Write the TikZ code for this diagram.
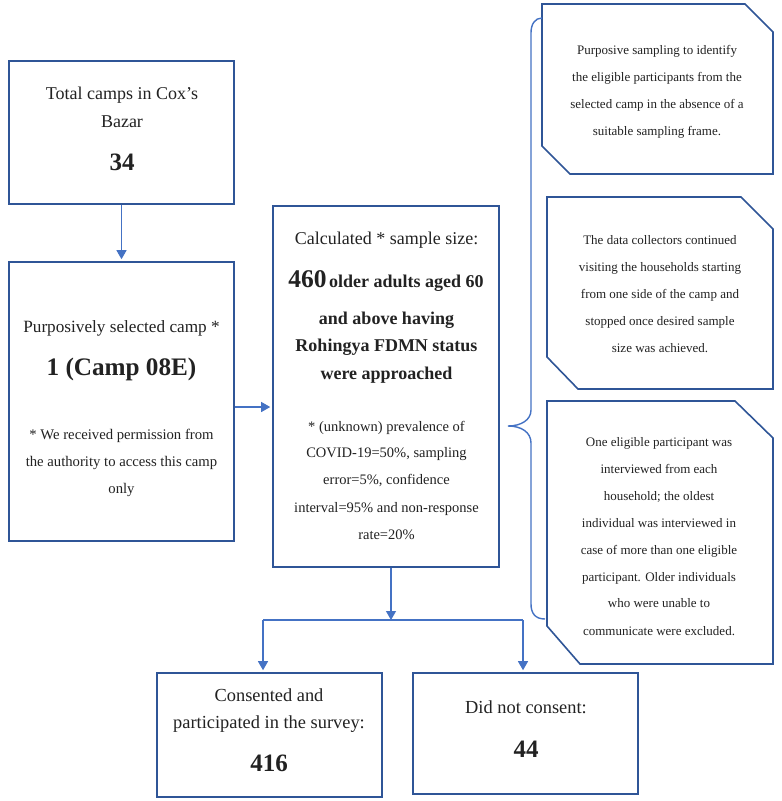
\documentclass[tikz,border=0pt]{standalone}
\usepackage{fontspec}
\setmainfont{Liberation Serif}
\usetikzlibrary{arrows.meta}
\definecolor{boxblue}{HTML}{2F5597}
\definecolor{arrblue}{HTML}{4472C4}
\definecolor{txtc}{HTML}{222222}
\newcommand\fsz[1]{\fontsize{#1}{#1}\selectfont}
\tikzset{
  box/.style={draw=boxblue, line width=1.6pt, inner sep=0pt},
  snip/.style={draw=boxblue, line width=1.6pt, line join=miter},
  tl/.style={anchor=base, text=txtc, inner sep=0pt},
  arr/.style={draw=arrblue, line width=1.1pt, -{Triangle[length=9pt,width=10pt]}, shorten >=2pt},
  conn/.style={draw=arrblue, line width=1.1pt},
  brace/.style={draw=arrblue, line width=1.4pt}
}
\begin{document}
\begin{tikzpicture}[x=1pt,y=-1pt]
\useasboundingbox (0,0) rectangle (782,801);
\fill[white] (0,0) rectangle (782,801);

% left boxes
\node[box,minimum width=225pt,minimum height=143pt] (b1) at (121.5,132.5) {};
\node[box,minimum width=225pt,minimum height=279pt] (b2) at (121.5,401.5) {};
\node[box,minimum width=226pt,minimum height=361pt] (b3) at (386,386.5) {};
\node[box,minimum width=225pt,minimum height=124pt] (b4) at (269.5,735) {};
\node[box,minimum width=225pt,minimum height=121pt] (b5) at (525.5,733.5) {};

% box 1 text
\node[tl,font=\fsz{18}] (b1a) at (122,99) {Total camps in Cox’s};
\node[tl,font=\fsz{18}] (b1b) at (122,127) {Bazar};
\node[tl,font=\bfseries\fsz{25}] (b1c) at (122,170) {34};

% box 2 text
\node[tl,font=\fsz{17.2}] (b2a) at (121.5,332) {Purposively selected camp *};
\node[tl,font=\bfseries\fsz{25.2}] (b2b) at (121.5,375.5) {1 (Camp 08E)};
\node[tl,font=\fsz{14.7}] (b2c) at (121.5,439.5) {* We received permission from};
\node[tl,font=\fsz{14.7}] (b2d) at (121.5,466.5) {the authority to access this camp};
\node[tl,font=\fsz{14.7}] (b2e) at (121.5,493.5) {only};

% box 3 text
\node[tl,font=\fsz{18}] (b3a) at (386.5,244) {Calculated * sample size:};
\node[tl,font=\bfseries] (b3b) at (386,287) {{\fsz{25.5}460} {\fsz{18}older adults aged 60}};
\node[tl,font=\bfseries\fsz{18}] (b3c) at (386.5,324) {and above having};
\node[tl,font=\bfseries\fsz{18}] (b3d) at (386.5,351) {Rohingya FDMN status};
\node[tl,font=\bfseries\fsz{18}] (b3e) at (386.5,379) {were approached};
\node[tl,font=\fsz{14.5}] (b3f) at (386.5,431.5) {* (unknown) prevalence of};
\node[tl,font=\fsz{14.5}] (b3g) at (386.5,457.5) {COVID-19=50\%, sampling};
\node[tl,font=\fsz{14.5}] (b3h) at (386.5,484.5) {error=5\%, confidence};
\node[tl,font=\fsz{14.5}] (b3i) at (386.5,512.5) {interval=95\% and non-response};
\node[tl,font=\fsz{14.5}] (b3j) at (386.5,539.5) {rate=20\%};

% box 4 and 5 text
\node[tl,font=\fsz{18.4}] (b4a) at (269,701) {Consented and};
\node[tl,font=\fsz{18.4}] (b4b) at (269,728) {participated in the survey:};
\node[tl,font=\bfseries\fsz{25}] (b4c) at (269,771) {416};
\node[tl,font=\fsz{18.4}] (b5a) at (526,713) {Did not consent:};
\node[tl,font=\bfseries\fsz{25}] (b5b) at (526,757) {44};

% right snipped boxes
\draw[snip] (542,4) -- (745,4) -- (773,32) -- (773,174) -- (570,174) -- (542,146) -- cycle;
\draw[snip] (547,197) -- (741,197) -- (773,229) -- (773,389) -- (578,389) -- (547,357) -- cycle;
\draw[snip] (547,401) -- (735,401) -- (773,438) -- (773,664) -- (580,664) -- (547,626) -- cycle;

\node[tl,font=\fsz{13}] (r1a) at (657,54) {Purposive sampling to identify};
\node[tl,font=\fsz{13}] (r1b) at (657,81) {the eligible participants from the};
\node[tl,font=\fsz{13}] (r1c) at (657,108) {selected camp in the absence of a};
\node[tl,font=\fsz{13}] (r1d) at (657,135) {suitable sampling frame.};

\node[tl,font=\fsz{13}] (r2a) at (660,244) {The data collectors continued};
\node[tl,font=\fsz{13}] (r2b) at (660,271) {visiting the households starting};
\node[tl,font=\fsz{13}] (r2c) at (660,298) {from one side of the camp and};
\node[tl,font=\fsz{13}] (r2d) at (660,325) {stopped once desired sample};
\node[tl,font=\fsz{13}] (r2e) at (660,352) {size was achieved.};

\node[tl,font=\fsz{13}] (r3a) at (659,446) {One eligible participant was};
\node[tl,font=\fsz{13}] (r3b) at (659,473) {interviewed from each};
\node[tl,font=\fsz{13}] (r3c) at (659,500) {household; the oldest};
\node[tl,font=\fsz{13}] (r3d) at (659,527) {individual was interviewed in};
\node[tl,font=\fsz{13}] (r3e) at (659,554) {case of more than one eligible};
\node[tl,font=\fsz{13}] (r3f) at (659,581) {participant. Older individuals};
\node[tl,font=\fsz{13}] (r3g) at (659,607) {who were unable to};
\node[tl,font=\fsz{13}] (r3h) at (659,635) {communicate were excluded.};

% brace
\draw[brace] (542,18) .. controls (535,18) and (531,24) .. (531,33)
  -- (531,410) .. controls (531,420) and (521,426) .. (508,426)
  .. controls (521,426) and (531,432) .. (531,443)
  -- (531,604) .. controls (531,613) and (535,619) .. (545,619);

% connectors
\coordinate (a1) at (0,407);
\coordinate (split) at (391,620);
\coordinate (sl) at (263,620);
\coordinate (sr) at (523,620);
\draw[arr] (b1.south) -- (b2.north);
\draw[arr] (b2.east |- a1) -- (b3.west |- a1);
\draw[arr,shorten >=0pt] (b3.south -| split) -- (split);
\draw[conn] (sl) -- (sr);
\draw[arr] (sl) -- (sl |- b4.north);
\draw[arr] (sr) -- (sr |- b5.north);
\end{tikzpicture}
\end{document}
